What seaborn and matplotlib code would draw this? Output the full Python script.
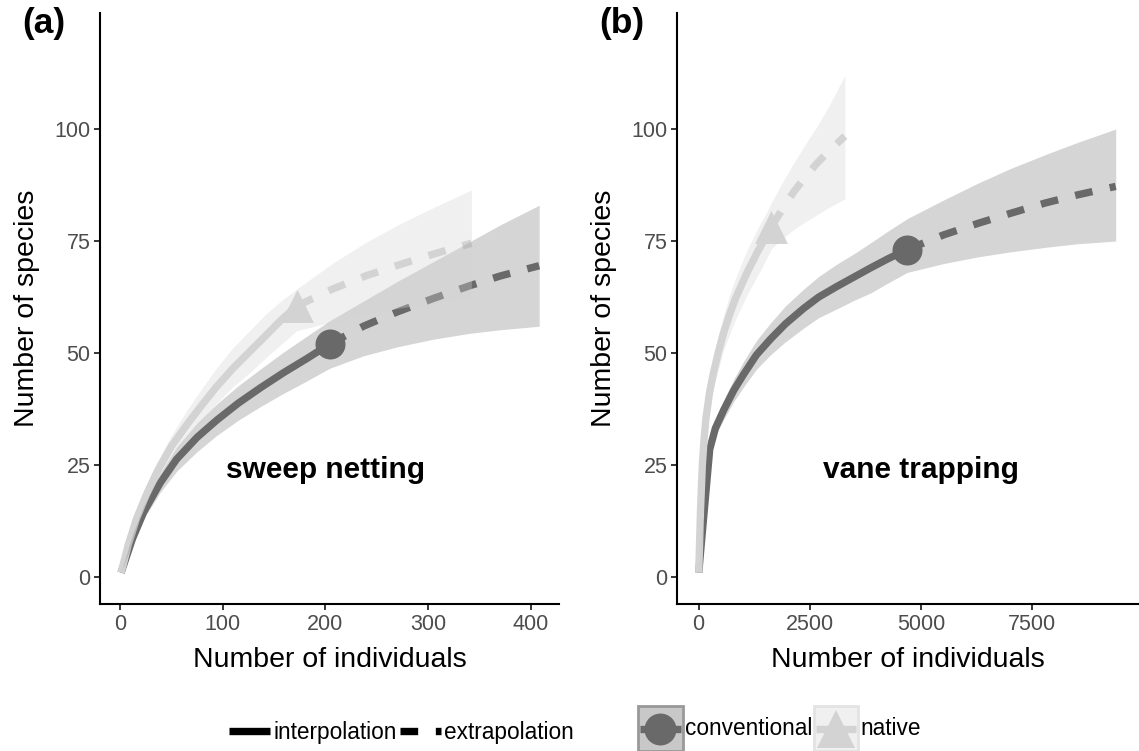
import numpy as np
import pandas as pd
import matplotlib
matplotlib.use("Agg")
import matplotlib.pyplot as plt
from matplotlib.lines import Line2D
from matplotlib.patches import Rectangle
import seaborn as sns

# ---------------- sweep netting (panel a) ----------------
a_conv_int_x = [1, 12, 23, 39, 55, 75, 94, 115, 137, 159, 182, 204]
a_conv_int_y = [1, 8.5, 14.5, 21.0, 26.3, 31.2, 35.0, 38.8, 42.3, 45.6, 48.8, 52.0]
a_conv_ext_x = [204, 237, 270, 305, 340, 370, 408]
a_conv_ext_y = [52.0, 56.0, 59.2, 62.2, 65.0, 67.2, 69.5]
a_conv_lo = [1, 7.6, 13.0, 18.9, 23.6, 28.0, 31.6, 35.0, 38.1, 41.0, 43.8, 46.6,
             49.4, 51.4, 53.1, 54.4, 55.2, 56.0]
a_conv_hi = [1, 9.4, 16.0, 23.2, 29.0, 34.4, 38.6, 42.7, 46.5, 50.2, 53.8, 57.2,
             61.6, 66.0, 70.4, 74.8, 78.6, 83.0]

a_nat_int_x = [1, 8, 16, 26, 36, 50, 65, 80, 94, 110, 127, 141, 156, 172]
a_nat_int_y = [1, 7.2, 13.0, 18.6, 23.5, 29.2, 34.0, 38.5, 42.5, 46.6, 50.5, 53.7, 57.2, 60.5]
a_nat_ext_x = [172, 208, 240, 273, 308, 342]
a_nat_ext_y = [60.5, 64.4, 67.3, 69.8, 72.3, 74.5]
a_nat_lo = [1, 6.5, 11.8, 17.0, 21.5, 27.0, 31.2, 35.2, 38.8, 42.5, 45.8, 48.8, 51.8, 55.0,
            57.0, 58.7, 60.1, 61.3, 62.4]
a_nat_hi = [1, 7.9, 14.3, 20.4, 25.7, 31.6, 37.2, 42.2, 46.7, 51.2, 55.2, 58.5, 61.5, 64.3,
            70.2, 74.8, 78.9, 82.8, 86.4]

# ---------------- vane trapping (panel b) ----------------
b_conv_int_x = [1, 248, 375, 563, 790, 1014, 1300, 1614, 1950, 2365, 2700, 3116, 3500, 3866, 4270, 4692]
b_conv_int_y = [1, 28.5, 33.2, 37.3, 41.7, 45.3, 49.6, 53.1, 56.5, 60.0, 62.5, 64.9, 67.0, 69.0, 71.1, 73.1]
b_conv_ext_x = [4692, 5518, 6300, 7019, 7800, 8521, 9384]
b_conv_ext_y = [73.1, 76.4, 79.0, 81.2, 83.5, 85.3, 87.2]
b_conv_lo = [1, 27.3, 31.6, 35.2, 39.2, 42.5, 46.4, 49.6, 52.5, 55.6, 57.9, 59.9, 61.8, 63.4, 65.7, 68.0,
             70.0, 71.5, 72.6, 73.6, 74.4, 75.0]
b_conv_hi = [1, 29.7, 34.8, 39.4, 44.2, 48.2, 52.8, 56.7, 60.5, 64.3, 67.1, 69.9, 72.2, 74.6, 77.3, 80.0,
             84.2, 88.0, 91.2, 94.3, 97.0, 100.0]

b_nat_int_x = [1, 41, 82, 123, 164, 246, 330, 437, 560, 695, 820, 954, 1080, 1213, 1340, 1472, 1637]
b_nat_int_y = [1, 15.0, 25.0, 31.0, 35.5, 41.3, 45.5, 50.0, 54.5, 58.6, 62.0, 65.0, 67.8, 70.4, 72.9,
               75.2, 78.2]
b_nat_ext_x = [1637, 1890, 2140, 2400, 2665, 2950, 3290]
b_nat_ext_y = [78.2, 82.2, 86.0, 89.3, 92.4, 95.3, 98.4]
b_nat_lo = [1, 12.5, 22.0, 27.8, 32.0, 38.0, 42.2, 46.2, 50.6, 54.2, 57.3, 60.2, 62.8, 65.3, 67.6, 70.0,
            73.3, 75.6, 77.6, 79.3, 80.9, 82.6, 84.4]
b_nat_hi = [1, 17.5, 28.0, 34.2, 39.0, 44.6, 49.0, 53.8, 58.4, 63.0, 66.5, 69.8, 72.8, 75.5, 78.0, 80.4,
            83.6, 88.2, 92.4, 96.6, 100.6, 105.5, 112.0]

panel_labels = ["(a)", "(b)"]
method_labels = ["sweep netting", "vane trapping"]
x_ticks_a = [0, 100, 200, 300, 400]
x_ticks_b = [0, 2500, 5000, 7500]
y_ticks = [0, 25, 50, 75, 100]

# ---------------- style ----------------
sns.set_style("ticks")
plt.rcParams['font.family'] = ['Liberation Sans', 'DejaVu Sans']
plt.rcParams['text.color'] = 'black'
plt.rcParams['axes.labelcolor'] = 'black'

CONV = '#696969'
NAT = '#d3d3d3'
LW = 5.3
DASH = (0, (2.4, 2.4))
W, H = 1139, 751

fig = plt.figure(figsize=(W / 100, H / 100), dpi=100)


def add_axes(left, right, top, bottom):
    return fig.add_axes([left / W, 1 - bottom / H, (right - left) / W, (bottom - top) / H])


ax_a = add_axes(100, 559, 13, 604)
ax_b = add_axes(677, 1139, 13, 604)


def draw_curve(ax, ix, iy, ex, ey, lo, hi, color, marker, msize, alpha):
    df_int = pd.DataFrame({"m": ix, "S": iy})
    df_ext = pd.DataFrame({"m": ex, "S": ey})
    sns.scatterplot(data=df_int.iloc[[-1]], x="m", y="S", ax=ax, color=color,
                    marker=marker, s=msize, linewidth=0, zorder=2)
    sns.lineplot(data=df_int, x="m", y="S", ax=ax, color=color, linewidth=LW,
                 estimator=None, sort=False, solid_capstyle='butt', solid_joinstyle='round', zorder=3)
    sns.lineplot(data=df_ext, x="m", y="S", ax=ax, color=color, linewidth=LW,
                 estimator=None, sort=False, linestyle=DASH, dash_capstyle='butt', zorder=3)
    xs = list(ix) + list(ex[1:])
    ax.fill_between(xs, lo, hi, color=color, alpha=alpha, linewidth=0, zorder=4)


draw_curve(ax_a, a_conv_int_x, a_conv_int_y, a_conv_ext_x, a_conv_ext_y,
           a_conv_lo, a_conv_hi, CONV, 'o', 467, 0.28)
draw_curve(ax_a, a_nat_int_x, a_nat_int_y, a_nat_ext_x, a_nat_ext_y,
           a_nat_lo, a_nat_hi, NAT, '^', 560, 0.34)
draw_curve(ax_b, b_conv_int_x, b_conv_int_y, b_conv_ext_x, b_conv_ext_y,
           b_conv_lo, b_conv_hi, CONV, 'o', 467, 0.28)
draw_curve(ax_b, b_nat_int_x, b_nat_int_y, b_nat_ext_x, b_nat_ext_y,
           b_nat_lo, b_nat_hi, NAT, '^', 560, 0.34)

ax_a.set_xlim(-19.5, 427.3)
ax_b.set_xlim(-488, 9908)
ax_a.set_xticks(x_ticks_a)
ax_b.set_xticks(x_ticks_b)

for ax, method, txt_x, lab, lab_x in [(ax_a, method_labels[0], 200, panel_labels[0], 44),
                                       (ax_b, method_labels[1], 5000, panel_labels[1], 622)]:
    ax.set_ylim(-6.0, 125.9)
    ax.set_yticks(y_ticks)
    sns.despine(ax=ax)
    for side in ("left", "bottom"):
        ax.spines[side].set_linewidth(1.5)
        ax.spines[side].set_color("black")
    ax.tick_params(axis="both", labelsize=15.5, labelcolor="#4d4d4d", length=4,
                   width=1.1, color="black", pad=3)
    ax.set_xlabel("Number of individuals", fontsize=20.5, color="black")
    ax.set_ylabel("Number of species", fontsize=20.5, color="black")
    ax.xaxis.label.set_va("center")
    ax.yaxis.label.set_va("center")
    ax.xaxis.set_label_coords(0.5, -0.095)
    ax.yaxis.set_label_coords(-0.158, 0.5)
    ax.text(txt_x, 23.9, method, ha="center", va="center", fontsize=21.5,
            fontweight="bold", color="black")
    fig.text(lab_x / W, 1 - 23 / H, lab, ha="center", va="center", fontsize=25.5,
             fontweight="bold", color="black")


# ---------------- legends ----------------
class BoxedKeyHandler:
    """Legend key: shaded square with a line and a centred marker."""

    def __init__(self, face, edge, color, marker, ms):
        self.face, self.edge, self.color, self.marker, self.ms = face, edge, color, marker, ms

    def legend_artist(self, legend, orig_handle, fontsize, handlebox):
        x0, y0 = -handlebox.xdescent, -handlebox.ydescent
        w, h = handlebox.width, handlebox.height
        tr = handlebox.get_transform()
        rect = Rectangle((x0, y0), w, h, facecolor=self.face, edgecolor=self.edge,
                         lw=2, transform=tr)
        line = Line2D([x0 + 1.5, x0 + w - 1.5], [y0 + h / 2] * 2, color=self.color,
                      lw=LW, solid_capstyle="butt", transform=tr)
        mark = Line2D([x0 + w / 2], [y0 + h / 2], color=self.color, linestyle="none",
                      marker=self.marker, markersize=self.ms, markeredgewidth=0, transform=tr)
        for art in (rect, line, mark):
            handlebox.add_artist(art)
        return rect


h_interp = Line2D([], [], color="black", lw=LW, solid_capstyle="butt")
h_extrap = Line2D([], [], color="black", lw=LW, linestyle=DASH, dash_capstyle="butt")
fig.legend([h_interp, h_extrap], ["interpolation", "extrapolation"],
           loc="center left", bbox_to_anchor=(229 / W, 1 - 732 / H), ncol=2, frameon=False,
           fontsize=16.3, handlelength=1.8, handletextpad=0.15, columnspacing=0.15,
           borderpad=0, borderaxespad=0)

h_conv = Rectangle((0, 0), 1, 1)
h_nat = Rectangle((0, 0), 1, 1)
fig.legend([h_conv, h_nat], ["conventional", "native"],
           loc="center left", bbox_to_anchor=(638 / W, 1 - 728.5 / H), ncol=2, frameon=False,
           fontsize=16.3, handlelength=1.98, handleheight=2.68, handletextpad=0.1,
           columnspacing=0.05, borderpad=0, borderaxespad=0,
           handler_map={h_conv: BoxedKeyHandler("#c8c8c8", "#999999", CONV, "o", 23),
                        h_nat: BoxedKeyHandler("#f0f0f0", "#e3e3e3", NAT, "^", 27)})

fig.savefig("out.png", dpi=100)
